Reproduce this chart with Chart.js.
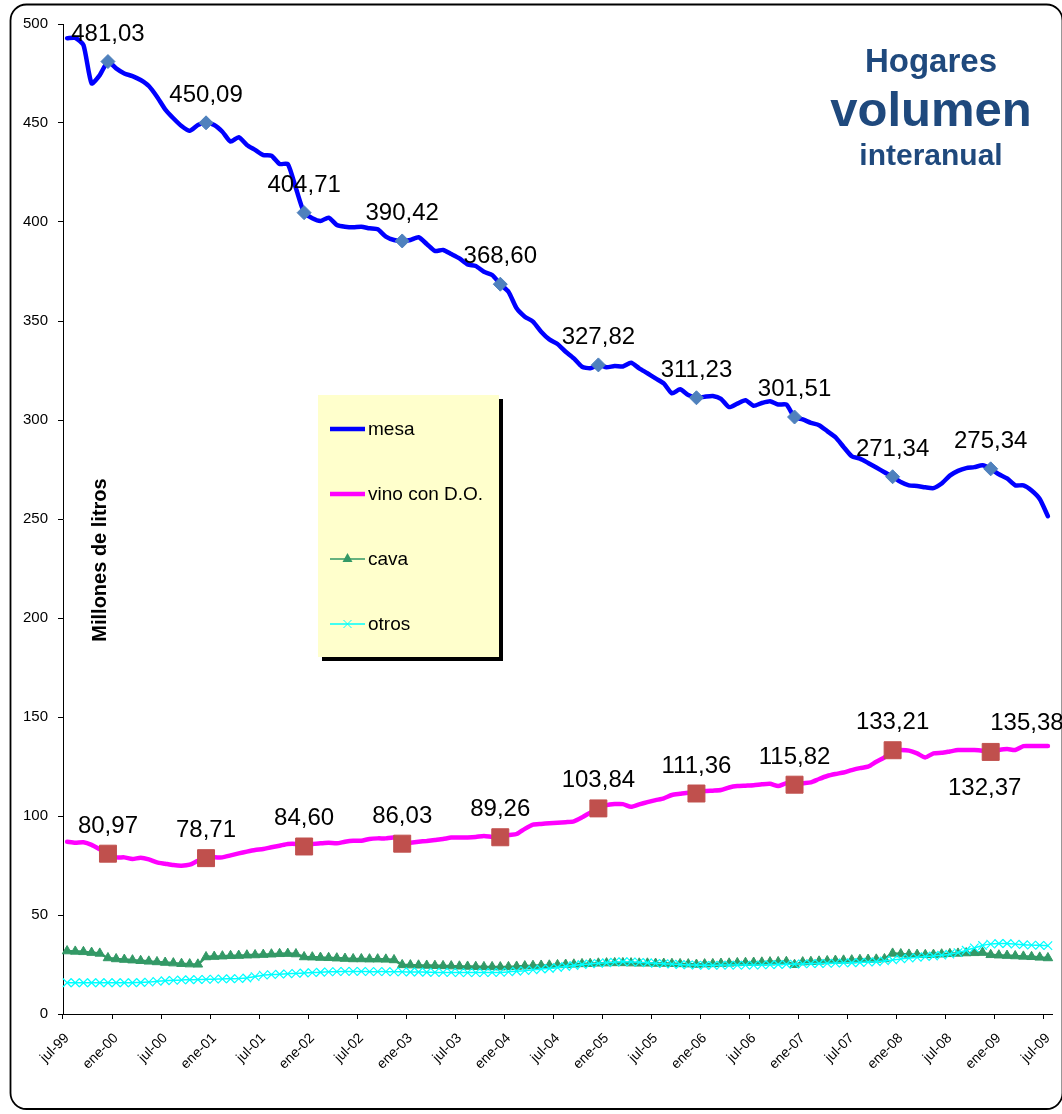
<!DOCTYPE html>
<html>
<head>
<meta charset="utf-8">
<title>Hogares volumen interanual</title>
<script src="https://cdn.jsdelivr.net/npm/chart.js@4.4.1/dist/chart.umd.min.js"></script>
<style>
  html, body { margin: 0; padding: 0; background: #fff; }
  canvas { display: block; }
</style>
</head>
<body>
<canvas id="volumenChart" width="1062" height="1114"></canvas>
<script>
// meses jul-99 .. jul-09 (121 categorias)
const monthNames = ['ene', 'feb', 'mar', 'abr', 'may', 'jun', 'jul', 'ago', 'sep', 'oct', 'nov', 'dic'];
const categories = [];
for (let i = 0; i <= 120; i++) {
    const m = (6 + i) % 12;
    const yy = (1999 + Math.floor((6 + i) / 12)) % 100;
    categories.push(monthNames[m] + '-' + String(yy).padStart(2, '0'));
}

// millones de litros, interanual
const mesa = [
    492.8, 493.0, 489.4, 470.0, 474.2, 481.03, 477.6, 475.0, 473.7, 471.7,
    468.7, 463.3, 456.9, 452.4, 448.5, 446.1, 449.0, 450.09, 449.0, 445.6,
    440.6, 442.8, 438.9, 436.4, 433.8, 433.5, 429.3, 429.3, 417.0, 404.71,
    401.9, 400.5, 402.2, 398.5, 397.6, 397.3, 397.6, 396.8, 396.3, 392.6,
    390.9, 390.42, 390.9, 392.3, 388.9, 385.4, 385.9, 383.8, 381.6, 378.6,
    377.8, 374.9, 373.2, 368.60, 364.8, 356.4, 352.2, 349.7, 344.6, 340.7,
    338.4, 334.5, 331.1, 326.9, 326.1, 327.82, 326.6, 327.3, 327.0, 328.9,
    326.1, 323.6, 321.0, 318.5, 313.5, 315.5, 312.6, 311.23, 311.75, 312.1,
    310.7, 306.5, 308.3, 310.0, 307.2, 308.6, 309.5, 307.8, 307.8, 301.51,
    300.3, 298.6, 297.4, 294.4, 291.3, 286.4, 281.7, 280.5, 278.3, 276.0,
    273.6, 271.34, 268.7, 267.0, 266.7, 266.0, 265.6, 267.9, 271.9, 274.3,
    275.7, 276.2, 277.1, 275.34, 272.6, 270.5, 267.0, 267.0, 264.4, 260.1, 251.4
];
const vino = [
    87.0, 86.5, 86.7, 85.4, 83.2, 80.97, 79.1, 79.1, 78.3, 78.9,
    78.1, 76.6, 75.9, 75.2, 74.9, 75.4, 77.4, 78.71, 79.1, 79.1,
    80.1, 81.1, 82.0, 82.8, 83.3, 84.2, 85.0, 85.9, 85.9, 84.60,
    85.9, 86.2, 86.5, 86.2, 87.0, 87.5, 87.5, 88.4, 88.7, 88.7,
    89.1, 86.03, 86.5, 87.0, 87.4, 87.9, 88.4, 89.1, 89.2, 89.2,
    89.4, 89.9, 89.4, 89.26, 90.4, 90.9, 93.5, 95.6, 96.0, 96.3,
    96.6, 96.9, 97.3, 99.3, 101.7, 103.84, 105.5, 106.0, 106.0, 104.7,
    105.9, 107.0, 108.0, 108.9, 110.6, 111.2, 111.75, 111.36, 112.6, 112.8,
    113.1, 114.4, 115.1, 115.3, 115.5, 116.0, 116.3, 115.1, 116.5, 115.82,
    116.5, 117.0, 118.7, 120.2, 121.2, 122.0, 123.2, 124.2, 124.9, 127.4,
    129.6, 133.21, 133.3, 133.0, 131.6, 129.6, 131.6, 131.9, 132.6, 133.3,
    133.3, 133.3, 133.0, 132.37, 133.3, 133.8, 133.3, 135.3, 135.3, 135.3, 135.38
];
const cava = [
    31.8, 31.6, 31.4, 31.0, 30.6, 28.3, 27.8, 27.5, 27.2, 26.9,
    26.6, 26.3, 26.0, 25.7, 25.4, 25.2, 25.1, 28.8, 29.0, 29.2,
    29.4, 29.5, 29.7, 29.8, 30.0, 30.2, 30.4, 30.5, 30.3, 28.8,
    28.7, 28.5, 28.4, 28.2, 28.0, 27.8, 27.8, 27.7, 27.7, 27.6,
    27.3, 24.8, 24.7, 24.6, 24.5, 24.4, 24.3, 24.2, 24.1, 24.0,
    23.9, 23.8, 23.8, 23.7, 23.8, 24.0, 24.2, 24.4, 24.5, 24.6,
    24.8, 25.0, 25.1, 25.3, 25.4, 25.6, 25.7, 25.8, 25.8, 25.7,
    25.6, 25.6, 25.5, 25.5, 25.4, 25.3, 25.2, 25.0, 25.2, 25.3,
    25.5, 25.6, 25.8, 25.9, 26.0, 26.1, 26.2, 26.3, 26.4, 24.9,
    26.2, 26.4, 26.6, 26.8, 27.0, 27.1, 27.2, 27.4, 27.5, 27.6,
    27.8, 30.6, 30.3, 30.1, 30.0, 29.9, 30.0, 30.2, 30.4, 30.6,
    30.8, 30.9, 31.0, 29.9, 29.7, 29.5, 29.3, 29.1, 28.9, 28.6, 28.3
];
const otros = [
    15.8, 15.8, 15.8, 15.8, 15.8, 15.8, 15.8, 15.8, 15.8, 15.9,
    16.1, 16.5, 16.8, 17.0, 17.2, 17.3, 17.4, 17.5, 17.6, 17.7,
    17.8, 17.9, 18.2, 18.9, 19.6, 19.9, 20.1, 20.3, 20.5, 20.7,
    20.9, 21.1, 21.3, 21.4, 21.5, 21.5, 21.5, 21.4, 21.4, 21.4,
    21.3, 21.3, 21.2, 21.2, 21.1, 21.0, 21.0, 21.0, 20.9, 20.9,
    20.9, 20.9, 21.0, 21.0, 21.3, 21.6, 21.9, 22.3, 22.7, 23.0,
    23.5, 24.0, 24.5, 25.0, 25.3, 25.6, 25.9, 26.2, 26.4, 26.3,
    26.1, 25.9, 25.6, 25.4, 25.2, 25.0, 24.8, 24.7, 24.6, 24.6,
    24.7, 24.7, 24.7, 24.7, 24.7, 24.8, 24.9, 25.0, 25.1, 25.2,
    25.3, 25.4, 25.5, 25.6, 25.7, 25.8, 25.9, 26.0, 26.2, 26.4,
    26.8, 27.3, 27.8, 28.2, 28.6, 29.0, 29.3, 29.7, 30.2, 31.0,
    32.2, 33.4, 34.6, 35.3, 35.6, 35.6, 35.3, 35.0, 34.8, 34.7, 34.5
];

// puntos marcados (diciembre de cada año) y etiquetas
const markedIdx = [5, 17, 29, 41, 53, 65, 77, 89, 101, 113];
const mesaLabelIdx = markedIdx;
const vinoLabelIdx = markedIdx.concat([120]);

const FONT = '"Liberation Sans", Arial, Helvetica, sans-serif';
Chart.defaults.font.family = FONT;
Chart.defaults.color = '#000';

const seriesNames = ['mesa', 'vino con D.O.', 'cava', 'otros'];
const seriesColors = ['#0000ff', '#ff00ff', '#339966', '#00ffff'];

// offsets especiales de algunas etiquetas [dx, dy]
const labelOffsets = { '1:113': [-6, 43], '1:120': [-21, -16] };

function fmt(v) {
    return v.toFixed(2).replace('.', ',');
}

const fondo = {
    id: 'fondo',
    beforeDraw(chart) {
        const c = chart.ctx;
        c.save();
        c.fillStyle = '#fff';
        c.fillRect(0, 0, chart.width, chart.height);
        c.restore();
    },
    afterDraw(chart) {
        const c = chart.ctx;
        c.save();

        // marco redondeado
        c.strokeStyle = '#000';
        c.lineWidth = 1.8;
        c.beginPath();
        c.roundRect(10.5, 4.5, 1052, 1104.5, 16);
        c.stroke();

        // titulo
        c.fillStyle = '#1f497d';
        c.textAlign = 'center';
        c.textBaseline = 'alphabetic';
        c.font = 'bold 33px ' + FONT;
        c.fillText('Hogares', 931, 72);
        c.font = 'bold 49px ' + FONT;
        c.fillText('volumen', 931, 126);
        c.font = 'bold 30px ' + FONT;
        c.fillText('interanual', 931, 165);

        // titulo eje y (dentro del area)
        c.save();
        c.translate(106, 560);
        c.rotate(-Math.PI / 2);
        c.fillStyle = '#000';
        c.font = 'bold 20px ' + FONT;
        c.fillText('Millones de litros', 0, 0);
        c.restore();

        // leyenda
        const bx = 318, by = 395, bw = 181, bh = 262;
        c.fillStyle = '#000';
        c.fillRect(bx + 4, by + 4, bw, bh);
        c.fillStyle = '#ffffcc';
        c.fillRect(bx, by, bw, bh);
        c.font = '19px ' + FONT;
        c.textAlign = 'left';
        c.textBaseline = 'middle';
        seriesNames.forEach((name, k) => {
            const y = by + 34 + k * 65;
            c.strokeStyle = seriesColors[k];
            c.lineWidth = k < 2 ? 4.5 : 1.5;
            c.beginPath();
            c.moveTo(330, y);
            c.lineTo(365, y);
            c.stroke();
            if (k === 2) {
                c.fillStyle = seriesColors[k];
                c.beginPath();
                c.moveTo(347.5, y - 6);
                c.lineTo(352.5, y + 3);
                c.lineTo(342.5, y + 3);
                c.closePath();
                c.fill();
            } else if (k === 3) {
                c.lineWidth = 1;
                c.beginPath();
                c.moveTo(343.5, y - 4); c.lineTo(351.5, y + 4);
                c.moveTo(351.5, y - 4); c.lineTo(343.5, y + 4);
                c.stroke();
            }
            c.fillStyle = '#000';
            c.fillText(name, 368, y + 1);
        });

        c.restore();
    }
};

const etiquetas = {
    id: 'etiquetas',
    afterDatasetsDraw(chart) {
        const c = chart.ctx;
        c.save();
        c.font = '24px ' + FONT;
        c.fillStyle = '#000';
        c.textAlign = 'center';
        c.textBaseline = 'alphabetic';
        [[0, mesaLabelIdx], [1, vinoLabelIdx]].forEach(([ds, idxs]) => {
            const meta = chart.getDatasetMeta(ds);
            const values = chart.data.datasets[ds].data;
            idxs.forEach(i => {
                const p = meta.data[i];
                const off = labelOffsets[ds + ':' + i] || [0, -21];
                c.fillText(fmt(values[i]), p.x + off[0], p.y + off[1]);
            });
        });
        c.restore();
    }
};

const markR = (r) => (ctx) => markedIdx.includes(ctx.dataIndex) ? r : 0;

new Chart(document.getElementById('volumenChart'), {
    type: 'line',
    data: {
        labels: categories,
        datasets: [
            {
                label: seriesNames[0],
                data: mesa,
                borderColor: seriesColors[0],
                borderWidth: 4.5,
                tension: 0.2,
                borderJoinStyle: 'round',
                borderCapStyle: 'round',
                pointStyle: 'rectRot',
                pointRadius: markR(7),
                pointBackgroundColor: '#4f81bd',
                pointBorderColor: '#4f81bd',
                pointBorderWidth: 1,
                order: 3
            },
            {
                label: seriesNames[1],
                data: vino,
                borderColor: seriesColors[1],
                borderWidth: 4.5,
                tension: 0.2,
                borderJoinStyle: 'round',
                borderCapStyle: 'round',
                pointStyle: 'rect',
                pointRadius: markR(12),
                pointBackgroundColor: '#c0504d',
                pointBorderColor: '#c0504d',
                pointBorderWidth: 1,
                order: 2
            },
            {
                label: seriesNames[2],
                data: cava,
                borderColor: seriesColors[2],
                borderWidth: 2.5,
                tension: 0.1,
                pointStyle: 'triangle',
                pointRadius: 5.5,
                pointBackgroundColor: seriesColors[2],
                pointBorderColor: seriesColors[2],
                pointBorderWidth: 1,
                order: 1
            },
            {
                label: seriesNames[3],
                data: otros,
                borderColor: seriesColors[3],
                borderWidth: 1.5,
                tension: 0.1,
                pointStyle: 'crossRot',
                pointRadius: 6,
                pointBorderColor: seriesColors[3],
                pointBorderWidth: 1.2,
                order: 0
            }
        ]
    },
    options: {
        responsive: false,
        animation: false,
        layout: { padding: { top: 24, right: 10, bottom: 0, left: 0 } },
        plugins: {
            legend: { display: false },
            tooltip: { enabled: false }
        },
        scales: {
            x: {
                type: 'category',
                offset: true,
                grid: {
                    offset: true,
                    drawOnChartArea: false,
                    tickLength: 5,
                    color: ctx => (ctx.index % 6 === 0 ? '#000' : 'rgba(0,0,0,0)')
                },
                border: { color: '#000', width: 1 },
                ticks: {
                    autoSkip: false,
                    minRotation: 45,
                    maxRotation: 45,
                    padding: 11,
                    color: '#000',
                    font: { size: 14 },
                    callback: (v, i) => (i % 6 === 0 ? categories[i] : '')
                },
                afterFit: s => {
                    s.height = 100;
                    s.paddingLeft = 0;
                    s.paddingRight = 0;
                }
            },
            y: {
                min: 0,
                max: 500,
                ticks: { stepSize: 50, padding: 10, color: '#000', font: { size: 15 } },
                grid: { drawOnChartArea: false, tickLength: 5, color: '#000' },
                border: { color: '#000', width: 1 },
                afterFit: s => {
                    s.width = 63;
                    s.paddingTop = 0;
                    s.paddingBottom = 0;
                }
            }
        }
    },
    plugins: [fondo, etiquetas]
});
</script>
</body>
</html>
